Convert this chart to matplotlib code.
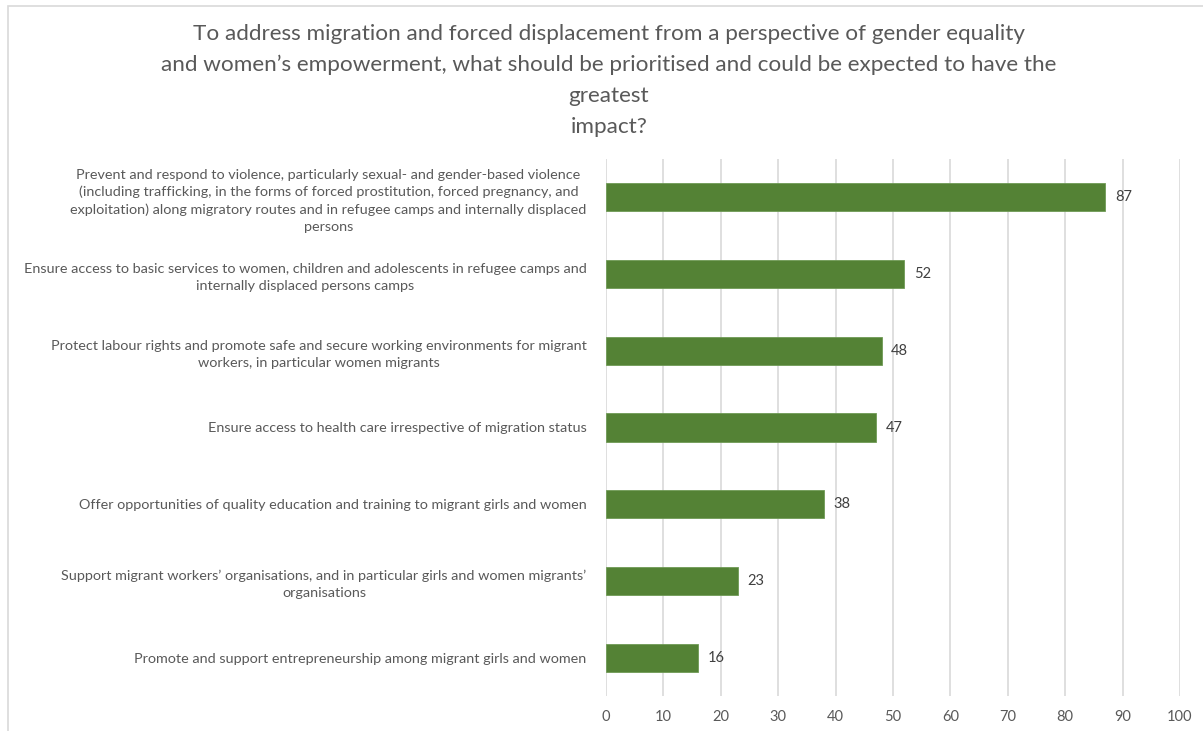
import matplotlib.pyplot as plt
from matplotlib.patches import Rectangle
import numpy as np

# Survey responses, listed from top to bottom as they appear on the chart
labels = [
    'Prevent and respond to violence, particularly sexual- and gender-based violence\n'
    '(including trafficking, in the forms of forced prostitution, forced pregnancy, and\n'
    'exploitation) along migratory routes and in refugee camps and internally displaced\n'
    'persons',
    'Ensure access to basic services to women, children and adolescents in refugee camps and\n'
    'internally displaced persons camps',
    'Protect labour rights and promote safe and secure working environments for migrant\n'
    'workers, in particular women migrants',
    'Ensure access to health care irrespective of migration status',
    'Offer opportunities of quality education and training to migrant girls and women',
    'Support migrant workers\u2019 organisations, and in particular girls and women migrants\u2019\n'
    'organisations',
    'Promote and support entrepreneurship among migrant girls and women',
]
values = [87, 52, 48, 47, 38, 23, 16]
xticks = [0, 10, 20, 30, 40, 50, 60, 70, 80, 90, 100]

title = ('To address migration and forced displacement from a perspective of gender equality\n'
         'and women\u2019s empowerment, what should be prioritised and could be expected to have the\n'
         'greatest\n'
         'impact?')

plt.rcParams['font.family'] = ['Lato', 'DejaVu Sans']
text_col = '#595959'
bar_col = '#548235'
grid_col = '#d9d9d9'

W, H = 1203, 731
fig = plt.figure(figsize=(W / 100, H / 100), dpi=100)
ax = fig.add_axes([606 / W, 1 - 696 / H, (1180 - 606) / W, (696 - 159) / H])

y = np.arange(len(labels))
bars = ax.barh(y, values, height=0.365, color=bar_col, edgecolor='#6f9a55', linewidth=0.6, zorder=3)

ax.set_xlim(0, 100)
ax.set_ylim(len(labels) - 0.5, -0.5)
ax.set_xticks(xticks)
ax.set_yticks(y)
ax.set_yticklabels(labels, multialignment='center', linespacing=1.48)
ax.tick_params(axis='y', length=0, pad=14, labelsize=10.4, labelcolor=text_col)
ax.tick_params(axis='x', length=0, pad=10, labelsize=10.5, labelcolor=text_col)
ax.grid(axis='x', color=grid_col, linewidth=1.2, zorder=0)
ax.set_axisbelow(True)
for s in ax.spines.values():
    s.set_visible(False)

# value labels just past the end of each bar
for rect, v in zip(bars, values):
    ax.annotate(f'{v}', xy=(rect.get_width(), rect.get_y() + rect.get_height() / 2),
                xytext=(7, 0), textcoords='offset points',
                ha='left', va='center', fontsize=10.5, color='#404040')

fig.text(609 / W, 1 - 24 / H, title, ha='center', va='top', fontsize=16.2,
         color=text_col, linespacing=1.67)

# light chart-area border
fig.patches.append(Rectangle((8 / W, -0.1), 1.2, 1.1 - 6 / H, transform=fig.transFigure,
                             fill=False, edgecolor=grid_col, linewidth=1.2))

fig.savefig('out.png', dpi=100)
